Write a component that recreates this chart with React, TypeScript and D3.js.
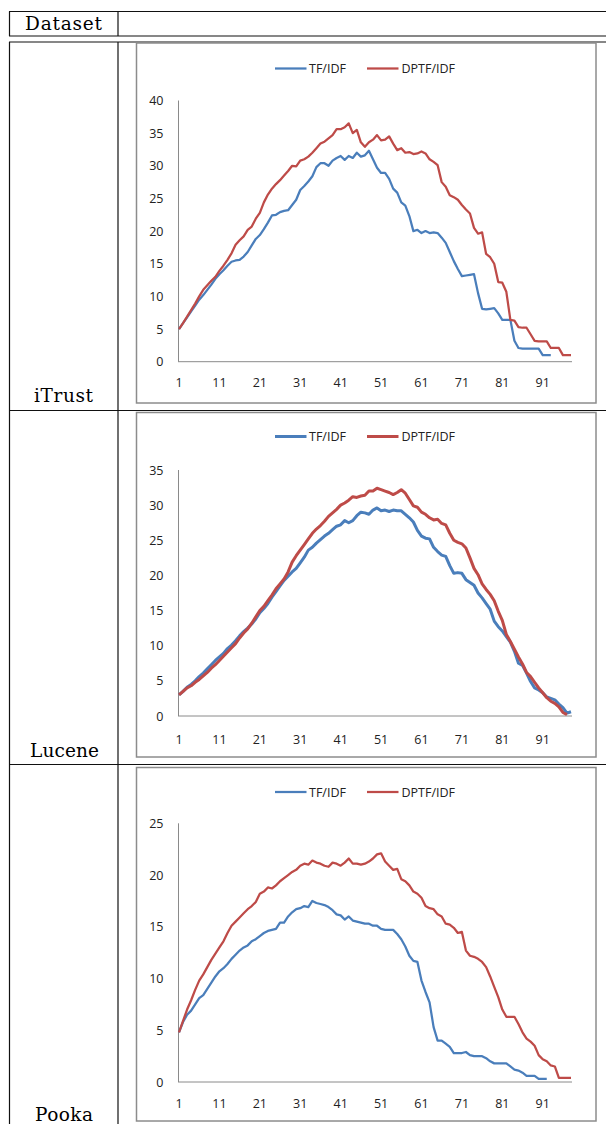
import React, { useEffect, useRef } from 'react';
import * as d3 from 'd3';

const DATASETS = ['iTrust', 'Lucene', 'Pooka'];
const SERIES = ['TF/IDF', 'DPTF/IDF'];
const X_TICKS = [1, 11, 21, 31, 41, 51, 61, 71, 81, 91];
const X_COUNT = 98;
const Y_MAX = [40, 35, 25];

// iTrust
const itrustTf = [
  5, 5.9, 6.8, 7.7, 8.6, 9.5, 10.2, 11, 11.8, 12.7, 13.4, 14, 14.7, 15.3, 15.5, 15.6, 16.1, 16.8, 17.8, 18.8,
  19.4, 20.3, 21.3, 22.4, 22.5, 22.9, 23.1, 23.2, 24, 24.8, 26.3, 26.9, 27.6, 28.4, 29.8, 30.4, 30.4, 30, 30.8, 31.2,
  31.5, 30.9, 31.5, 31.2, 32, 31.4, 31.6, 32.3, 31, 29.7, 28.9, 28.9, 28, 26.5, 25.9, 24.4, 23.9, 22.3, 20, 20.2,
  19.7, 20, 19.7, 19.8, 19.7, 19, 18.2, 16.8, 15.4, 14.2, 13.1, 13.2, 13.3, 13.4, 10.5, 8.1, 8, 8.1, 8.2, 7.4,
  6.4, 6.4, 6.4, 3.2, 2.1, 2, 2, 2, 2, 2, 1, 1, 1
];
const itrustDp = [
  5, 5.9, 6.9, 7.9, 8.9, 10, 11, 11.7, 12.4, 13, 13.9, 14.7, 15.6, 16.6, 17.9, 18.6, 19.2, 20.2, 20.7, 21.9,
  22.8, 24.4, 25.6, 26.5, 27.2, 27.8, 28.5, 29.2, 30, 29.9, 30.8, 31, 31.4, 32, 32.7, 33.4, 33.7, 34.2, 34.7, 35.6,
  35.6, 35.9, 36.5, 35, 35.5, 33.6, 32.9, 33.6, 34, 34.7, 33.9, 34, 34.5, 33.4, 32.4, 32.7, 32, 32.1, 31.8, 31.9,
  32.2, 31.9, 31, 30.6, 30.1, 27.5, 26.8, 25.5, 25.2, 24.8, 24, 23.3, 22.7, 20.5, 19.6, 19.8, 16.5, 16, 15, 12.2,
  12.1, 10.7, 6.4, 6.3, 5.3, 5.2, 5.2, 4.2, 3.2, 3.1, 3.1, 3.1, 2.1, 2.1, 2.1, 1, 1, 1
];

// Lucene
const luceneTf = [
  3, 3.5, 4.1, 4.5, 5, 5.6, 6.1, 6.7, 7.3, 7.9, 8.4, 8.9, 9.6, 10.1, 10.7, 11.4, 12, 12.5, 13.1, 13.8,
  14.7, 15.3, 16, 16.9, 17.7, 18.5, 19.3, 19.9, 20.5, 21, 21.8, 22.6, 23.6, 24, 24.6, 25.1, 25.6, 26, 26.5, 27,
  27.2, 27.8, 27.5, 27.8, 28.5, 29, 28.9, 28.7, 29.3, 29.6, 29.2, 29.3, 29.1, 29.3, 29.2, 29.2, 28.7, 28.2, 27.6, 26.4,
  25.6, 25.3, 25.2, 24, 23.4, 22.9, 22.7, 21.4, 20.3, 20.4, 20.3, 19.4, 19, 18.6, 17.5, 16.8, 16, 15.2, 13.5, 12.7,
  12.1, 11.3, 10.5, 9.2, 7.5, 7.2, 6.1, 4.9, 4, 3.7, 3.3, 2.7, 2.5, 2.3, 1.7, 1.2, 0.4, 0.6
];
const luceneDp = [
  3, 3.5, 4, 4.3, 4.8, 5.2, 5.7, 6.2, 6.8, 7.3, 7.9, 8.5, 9.1, 9.7, 10.3, 11.1, 11.8, 12.4, 13.2, 14.1,
  15, 15.6, 16.4, 17.2, 18.1, 18.8, 19.5, 20.5, 21.9, 22.8, 23.6, 24.4, 25.2, 26, 26.6, 27.1, 27.7, 28.4, 28.9, 29.4,
  30, 30.3, 30.7, 31.2, 31.1, 31.3, 31.4, 32, 32, 32.4, 32.2, 32, 31.8, 31.5, 31.8, 32.2, 31.7, 30.8, 29.9, 29.7,
  29, 28.7, 28.2, 27.9, 28, 27.4, 27.2, 26, 25, 24.7, 24.5, 23.9, 22.5, 21, 20.1, 18.8, 18, 17.3, 16.4, 14.9,
  13.6, 11.6, 10.6, 9.5, 8.4, 7.4, 6.2, 5.6, 4.8, 4, 3.3, 2.6, 2.1, 1.8, 1.3, 0.5, 0.2
];

// Pooka
const pookaTf = [
  4.8, 5.8, 6.5, 6.9, 7.5, 8.1, 8.4, 9, 9.6, 10.2, 10.7, 11, 11.4, 11.9, 12.3, 12.7, 13, 13.2, 13.6, 13.8,
  14.1, 14.4, 14.6, 14.7, 14.8, 15.4, 15.4, 16, 16.4, 16.7, 16.8, 17, 16.9, 17.5, 17.3, 17.2, 17.1, 16.9, 16.6, 16.2,
  16.1, 15.7, 16, 15.6, 15.5, 15.4, 15.3, 15.3, 15.1, 15.1, 14.8, 14.7, 14.7, 14.7, 14.3, 13.8, 13.1, 12.2, 11.7, 11.6,
  9.8, 8.7, 7.7, 5.3, 4, 4, 3.7, 3.4, 2.8, 2.8, 2.8, 2.9, 2.6, 2.5, 2.5, 2.5, 2.3, 2, 1.8, 1.8,
  1.8, 1.8, 1.5, 1.2, 1.1, 0.9, 0.6, 0.6, 0.6, 0.3, 0.3, 0.3
];
const pookaDp = [
  4.8, 5.9, 7, 7.9, 8.9, 9.8, 10.4, 11.1, 11.8, 12.4, 13, 13.6, 14.4, 15.1, 15.5, 15.9, 16.3, 16.7, 17, 17.4,
  18.2, 18.4, 18.8, 18.7, 19, 19.4, 19.7, 20, 20.3, 20.5, 20.9, 21.1, 21, 21.4, 21.2, 21.1, 20.9, 20.8, 21.2, 21.1,
  20.9, 21.2, 21.6, 21.1, 21.1, 21, 21.1, 21.3, 21.6, 22, 22.1, 21.3, 20.9, 20.5, 20.6, 19.6, 19.4, 19, 18.4, 18.2,
  17.8, 17, 16.8, 16.7, 16.2, 16, 15.3, 15.2, 14.9, 14.4, 14.5, 12.7, 12.2, 12.1, 11.9, 11.6, 11.1, 10.2, 9.2, 8.2,
  7, 6.3, 6.3, 6.3, 5.6, 4.8, 4.2, 3.9, 3.5, 2.6, 2.2, 2, 1.6, 1.5, 0.4, 0.4, 0.4, 0.4
];

const SERIES_DATA = [
  [itrustTf, itrustDp],
  [luceneTf, luceneDp],
  [pookaTf, pookaDp]
];

export default function App(): JSX.Element {
  const svgRef = useRef<SVGSVGElement>(null);

  useEffect(() => {
    const svgEle = svgRef.current;
    if (svgEle == null) {
      return;
    }
    const svg = d3.select(svgEle);
    svg.selectAll('*').remove();

    const BLUE = '#4a7ebb';
    const RED = '#be4b48';
    const COLORS = [BLUE, RED];
    const AXIS_COLOR = '#8a8a8a';
    const SANS = '"Open Sans", "Liberation Sans", sans-serif';
    const SERIF = '"DejaVu Serif", serif';

    // table rules (the latex table around the charts)
    const table = svg.append('g').attr('stroke', '#111').attr('stroke-width', 1.2);
    [11.5, 36, 42, 410.5, 764.5].forEach((y) => {
      table.append('line').attr('x1', 9).attr('x2', 606).attr('y1', y).attr('y2', y);
    });
    [9.5, 118].forEach((x) => {
      table.append('line').attr('x1', x).attr('x2', x).attr('y1', 11.5).attr('y2', 36);
      table.append('line').attr('x1', x).attr('x2', x).attr('y1', 42).attr('y2', 1124);
    });

    svg
      .append('text')
      .attr('x', 25)
      .attr('y', 29.5)
      .attr('font-family', SERIF)
      .attr('font-size', 18.5)
      .attr('textLength', 77)
      .attr('lengthAdjust', 'spacing')
      .text('Dataset');

    // label positions for each dataset name
    const nameLayout = [
      { x: 34, y: 402, w: 59 },
      { x: 30, y: 757, w: 69 },
      { x: 35, y: 1121, w: 58 }
    ];

    // chart frames
    const layout = [
      { boxTop: 43, boxBottom: 403, legendY: 68.5, plotTop: 100.5, plotBottom: 361.7, labelY: 382.5, lw: 2.25 },
      { boxTop: 412.5, boxBottom: 757, legendY: 436.5, plotTop: 470, plotBottom: 716, labelY: 739.5, lw: 3 },
      { boxTop: 767.5, boxBottom: 1121, legendY: 792, plotTop: 823.3, plotBottom: 1082, labelY: 1103, lw: 2.25 }
    ];

    DATASETS.forEach((name, k) => {
      const L = layout[k];
      const nl = nameLayout[k];
      svg
        .append('text')
        .attr('x', nl.x)
        .attr('y', nl.y)
        .attr('font-family', SERIF)
        .attr('font-size', 18.5)
        .attr('textLength', nl.w)
        .attr('lengthAdjust', 'spacing')
        .text(name);

      const g = svg.append('g');
      g.append('rect')
        .attr('x', 136.5)
        .attr('y', L.boxTop)
        .attr('width', 596 - 136.5)
        .attr('height', L.boxBottom - L.boxTop)
        .attr('fill', 'white')
        .attr('stroke', '#8c8c8c')
        .attr('stroke-width', 1.5);

      const x = d3.scaleLinear().domain([1, X_COUNT]).range([179, 571]);
      const y = d3.scaleLinear().domain([0, Y_MAX[k]]).range([L.plotBottom, L.plotTop]);

      // axes
      g.append('line')
        .attr('x1', 178.5)
        .attr('x2', 178.5)
        .attr('y1', L.plotTop)
        .attr('y2', L.plotBottom)
        .attr('stroke', AXIS_COLOR)
        .attr('stroke-width', 1);
      g.append('line')
        .attr('x1', 178)
        .attr('x2', 572)
        .attr('y1', L.plotBottom)
        .attr('y2', L.plotBottom)
        .attr('stroke', AXIS_COLOR)
        .attr('stroke-width', 1);

      const yTicks = d3.range(0, Y_MAX[k] + 1, 5);
      g.selectAll('.ytick')
        .data(yTicks)
        .enter()
        .append('text')
        .attr('x', 163.5)
        .attr('y', (d) => y(d) + 4.5)
        .attr('text-anchor', 'end')
        .attr('font-family', SANS)
        .attr('font-size', 12.5)
        .attr('fill', '#222')
        .text((d) => d);

      g.selectAll('.xtick')
        .data(X_TICKS)
        .enter()
        .append('text')
        .attr('x', (d) => x(d))
        .attr('y', L.labelY + 4.5)
        .attr('text-anchor', 'middle')
        .attr('font-family', SANS)
        .attr('font-size', 12.5)
        .attr('fill', '#222')
        .text((d) => d);

      // series
      const line = d3
        .line<number>()
        .x((_, i) => x(i + 1))
        .y((d) => y(d))
        .curve(d3.curveLinear);

      SERIES_DATA[k].forEach((values, s) => {
        g.append('path')
          .attr('d', line(values))
          .attr('fill', 'none')
          .attr('stroke', COLORS[s])
          .attr('stroke-width', L.lw)
          .attr('stroke-linejoin', 'round');
      });

      // legend
      const legendItems = [
        { x0: 275, x1: 306.5, tx: 309 },
        { x0: 367, x1: 398.5, tx: 401.5 }
      ];
      SERIES.forEach((label, s) => {
        const it = legendItems[s];
        g.append('line')
          .attr('x1', it.x0)
          .attr('x2', it.x1)
          .attr('y1', L.legendY)
          .attr('y2', L.legendY)
          .attr('stroke', COLORS[s])
          .attr('stroke-width', L.lw);
        g.append('text')
          .attr('x', it.tx)
          .attr('y', L.legendY + 4.5)
          .attr('font-family', SANS)
          .attr('font-size', 12.5)
          .attr('fill', '#222')
          .text(label);
      });
    });
  }, []);

  return (
    <svg
      ref={svgRef}
      width={606}
      height={1124}
      style={{ position: 'absolute', left: 0, top: 0, background: 'white' }}
    />
  );
}
